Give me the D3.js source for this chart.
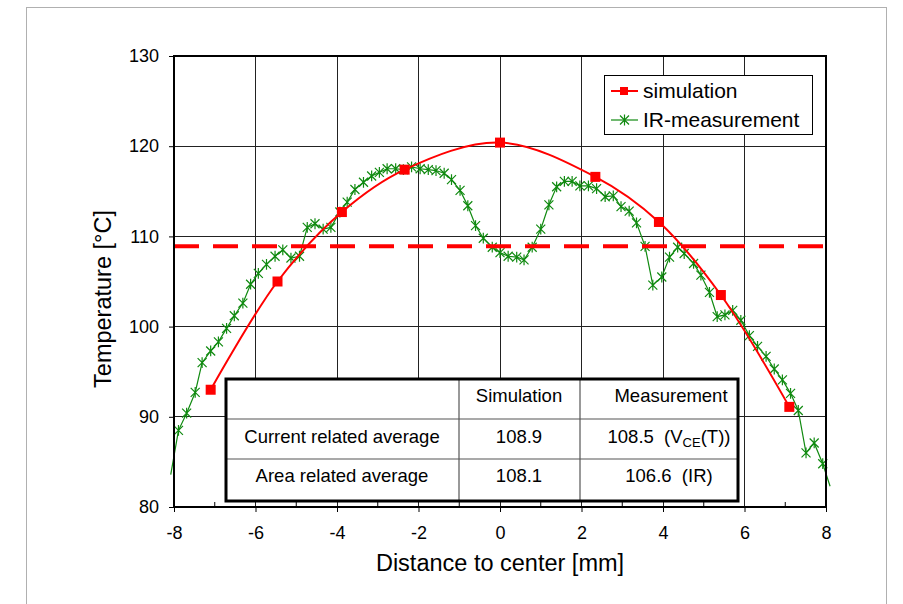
<!DOCTYPE html>
<html>
<head>
<meta charset="utf-8">
<script src="https://cdn.jsdelivr.net/npm/d3@7"></script>
<style>
  body { margin: 0; background: #fff; }
  svg text { font-family: "Liberation Sans", Arial, sans-serif; fill: #000; }
</style>
</head>
<body>
<div id="chart"></div>
<script>
// Data
const simX = [-7.1, -5.46, -3.88, -2.34, 0, 2.34, 3.9, 5.42, 7.1]
const simT = [93.0, 105.0, 112.7, 117.4, 120.4, 116.6, 111.6, 103.5, 91.1]

const irX = [-8.08, -7.89, -7.69, -7.48, -7.31, -7.10, -6.91, -6.71, -6.52, -6.31, -6.12, -5.93,
  -5.73, -5.52, -5.33, -5.13, -4.92, -4.73, -4.54, -4.34, -4.15, -3.93, -3.75, -3.56,
  -3.35, -3.15, -2.96, -2.77, -2.56, -2.37, -2.17, -1.96, -1.76, -1.57, -1.37, -1.19,
  -0.98, -0.79, -0.60, -0.41, -0.19, 0.00, 0.20, 0.41, 0.59, 0.79, 1.00, 1.20,
  1.39, 1.58, 1.77, 1.96, 2.17, 2.37, 2.58, 2.78, 2.97, 3.17, 3.35, 3.56,
  3.75, 3.97, 4.16, 4.36, 4.52, 4.75, 4.93, 5.14, 5.33, 5.52, 5.71, 5.91,
  6.12, 6.32, 6.53, 6.73, 6.93, 7.13, 7.32, 7.51, 7.71, 7.92, 8.10]
const irT = [83.6, 88.5, 90.4, 92.7, 96.0, 97.3, 98.3, 99.8, 101.2, 102.6, 104.7, 105.9,
  106.9, 107.8, 108.5, 107.6, 107.8, 111.0, 111.4, 110.8, 111.0, 112.7, 113.8, 115.2,
  116.0, 116.7, 117.1, 117.5, 117.5, 117.4, 117.7, 117.5, 117.4, 117.3, 117.0, 116.3,
  115.1, 113.4, 111.2, 109.8, 108.8, 108.2, 107.8, 107.7, 107.4, 108.8, 110.8, 113.5,
  115.5, 116.1, 116.1, 115.6, 115.6, 115.3, 114.4, 114.5, 113.3, 112.8, 111.5, 108.9,
  104.6, 105.5, 107.7, 108.8, 108.1, 107.0, 105.7, 103.8, 101.1, 101.3, 101.8, 100.7,
  99.0, 97.8, 96.7, 95.3, 94.1, 92.6, 90.7, 86.0, 87.1, 84.8, 82.3]

const currentAvgSim = 108.9

const legendLabels = ['simulation', 'IR-measurement']
const tableHead = ['', 'Simulation', 'Measurement']
const tableRows = [
  ['Current related average', '108.9', '108.5', 'VCE'],
  ['Area related average', '108.1', '106.6', 'IR']
]

const xTicks = [-8, -6, -4, -2, 0, 2, 4, 6, 8]
const xMinor = [-7, -5, -3, -1, 1, 3, 5, 7]
const yTicks = [80, 90, 100, 110, 120, 130]

const width = 903
const height = 604
const plot = { left: 174, right: 826, top: 56, bottom: 507 }

const svg = d3.select('#chart').append('svg')
  .attr('width', width)
  .attr('height', height)

// outer frame
svg.append('rect')
  .attr('x', 26.5).attr('y', 7.5)
  .attr('width', 860).attr('height', 620)
  .attr('fill', '#fff')
  .attr('stroke', '#b0b0b0')

const x = d3.scaleLinear().domain([-8, 8]).range([plot.left, plot.right])
const y = d3.scaleLinear().domain([80, 130]).range([plot.bottom, plot.top])

// grid
const grid = svg.append('g').attr('shape-rendering', 'crispEdges')
grid.selectAll('.vg').data(xTicks.slice(1, -1)).enter().append('line')
  .attr('x1', d => x(d)).attr('x2', d => x(d))
  .attr('y1', plot.top).attr('y2', plot.bottom)
  .attr('stroke', '#222').attr('stroke-width', 1)
grid.selectAll('.hg').data(yTicks.slice(1, -1)).enter().append('line')
  .attr('x1', plot.left).attr('x2', plot.right)
  .attr('y1', d => y(d)).attr('y2', d => y(d))
  .attr('stroke', '#222').attr('stroke-width', 1)

// y axis
const yAxis = svg.append('g')
  .attr('transform', `translate(${plot.left},0)`)
  .call(d3.axisLeft(y).tickValues(yTicks).tickSize(5).tickPadding(10))
yAxis.select('.domain').remove()
yAxis.selectAll('text').attr('font-size', 18).attr('font-family', '"Liberation Sans", Arial, sans-serif')

// x axis (major ticks out, minor ticks in)
const xAxis = svg.append('g')
  .attr('transform', `translate(0,${plot.bottom})`)
  .call(d3.axisBottom(x).tickValues(xTicks).tickSize(5).tickPadding(14).tickFormat(d => String(d)))
xAxis.select('.domain').remove()
xAxis.selectAll('text').attr('font-size', 18).attr('font-family', '"Liberation Sans", Arial, sans-serif')
svg.append('g').selectAll('line').data(xMinor).enter().append('line')
  .attr('x1', d => x(d)).attr('x2', d => x(d))
  .attr('y1', plot.bottom - 5).attr('y2', plot.bottom)
  .attr('stroke', '#000')

// axis titles
svg.append('text')
  .attr('x', 500).attr('y', 571)
  .attr('text-anchor', 'middle')
  .attr('font-size', 23.5)
  .text('Distance to center [mm]')
svg.append('text')
  .attr('transform', `translate(111,299) rotate(-90)`)
  .attr('text-anchor', 'middle')
  .attr('font-size', 23.5)
  .text('Temperature [°C]')

// asterisk marker
const star = (g, cx, cy, r) => {
  const p = `M${cx - r},${cy - r}L${cx + r},${cy + r}M${cx - r},${cy + r}L${cx + r},${cy - r}M${cx},${cy - r * 1.2}L${cx},${cy + r * 1.2}`
  g.append('path').attr('d', p).attr('stroke', '#108a10').attr('stroke-width', 1.2).attr('fill', 'none')
}

// IR measurement
const irData = irX.map((d, i) => ({ x: d, t: irT[i] }))
const line = d3.line().x(d => x(d.x)).y(d => y(d.t))
svg.append('path')
  .datum(irData)
  .attr('d', line)
  .attr('fill', 'none')
  .attr('stroke', '#108a10')
  .attr('stroke-width', 1.2)
const irMarks = svg.append('g')
irData.filter(d => d.x >= -8 && d.x <= 8).forEach(d => star(irMarks, x(d.x), y(d.t), 4.5))

// current related average line
svg.append('line')
  .attr('x1', plot.left).attr('x2', plot.right)
  .attr('y1', y(currentAvgSim)).attr('y2', y(currentAvgSim))
  .attr('stroke', '#ff0000')
  .attr('stroke-width', 4)
  .attr('stroke-dasharray', '25,14')

// simulation
const simData = simX.map((d, i) => ({ x: d, t: simT[i] }))
svg.append('path')
  .datum(simData)
  .attr('d', line.curve(d3.curveCatmullRom.alpha(0.5)))
  .attr('fill', 'none')
  .attr('stroke', '#ff0000')
  .attr('stroke-width', 2)
svg.append('g').selectAll('rect').data(simData).enter().append('rect')
  .attr('x', d => x(d.x) - 5).attr('y', d => y(d.t) - 5)
  .attr('width', 10).attr('height', 10)
  .attr('fill', '#ff0000')

// plot frame
svg.append('rect')
  .attr('x', plot.left).attr('y', plot.top)
  .attr('width', plot.right - plot.left).attr('height', plot.bottom - plot.top)
  .attr('fill', 'none').attr('stroke', '#000').attr('stroke-width', 2)

// legend
const legend = svg.append('g')
legend.append('rect')
  .attr('x', 604.5).attr('y', 75.5).attr('width', 208).attr('height', 59)
  .attr('fill', '#fff').attr('stroke', '#000')
legend.append('line').attr('x1', 611).attr('x2', 638).attr('y1', 91).attr('y2', 91)
  .attr('stroke', '#ff0000').attr('stroke-width', 2)
legend.append('rect').attr('x', 620).attr('y', 87).attr('width', 8).attr('height', 8).attr('fill', '#ff0000')
legend.append('line').attr('x1', 611).attr('x2', 638).attr('y1', 120).attr('y2', 120)
  .attr('stroke', '#108a10').attr('stroke-width', 1.2)
star(legend, 624.5, 120, 4.5)
legend.selectAll('text').data(legendLabels).enter().append('text')
  .attr('x', 643).attr('y', (d, i) => 98 + i * 29)
  .attr('font-size', 21)
  .text(d => d)

// table
const cols = [226, 459, 580, 738]
const rows = [379, 419, 459, 501]
const tbl = svg.append('g')
tbl.append('rect')
  .attr('x', cols[0]).attr('y', rows[0])
  .attr('width', cols[3] - cols[0]).attr('height', rows[3] - rows[0])
  .attr('fill', '#fff')
tbl.selectAll('.rl').data(rows.slice(1, -1)).enter().append('line')
  .attr('x1', cols[0]).attr('x2', cols[3]).attr('y1', d => d).attr('y2', d => d)
  .attr('stroke', '#555').attr('stroke-width', 1.2)
tbl.selectAll('.cl').data(cols.slice(1, -1)).enter().append('line')
  .attr('y1', rows[0]).attr('y2', rows[3]).attr('x1', d => d).attr('x2', d => d)
  .attr('stroke', '#555').attr('stroke-width', 1.2)
tbl.append('rect')
  .attr('x', cols[0]).attr('y', rows[0])
  .attr('width', cols[3] - cols[0]).attr('height', rows[3] - rows[0])
  .attr('fill', 'none').attr('stroke', '#000').attr('stroke-width', 3)

const centers = [342, 519, 669]
const baselines = [402, 443, 482]
tableHead.forEach((t, i) => {
  tbl.append('text').attr('x', i === 2 ? 671 : centers[i]).attr('y', baselines[0])
    .attr('text-anchor', 'middle').attr('font-size', 18.5).text(t)
})
tableRows.forEach((r, j) => {
  const by = baselines[j + 1]
  tbl.append('text').attr('x', centers[0]).attr('y', by)
    .attr('text-anchor', 'middle').attr('font-size', 18.5).text(r[0])
  tbl.append('text').attr('x', centers[1]).attr('y', by)
    .attr('text-anchor', 'middle').attr('font-size', 18.5).text(r[1])
  const m = tbl.append('text').attr('x', centers[2]).attr('y', by)
    .attr('text-anchor', 'middle').attr('font-size', 18.5)
    .attr('xml:space', 'preserve')
  if (r[3] === 'VCE') {
    m.append('tspan').text(r[2] + '  (V')
    m.append('tspan').attr('font-size', 13).attr('dy', 4).text('CE')
    m.append('tspan').attr('dy', -4).text('(T))')
  } else {
    m.text(r[2] + '  (' + r[3] + ')')
  }
})
</script>
</body>
</html>
